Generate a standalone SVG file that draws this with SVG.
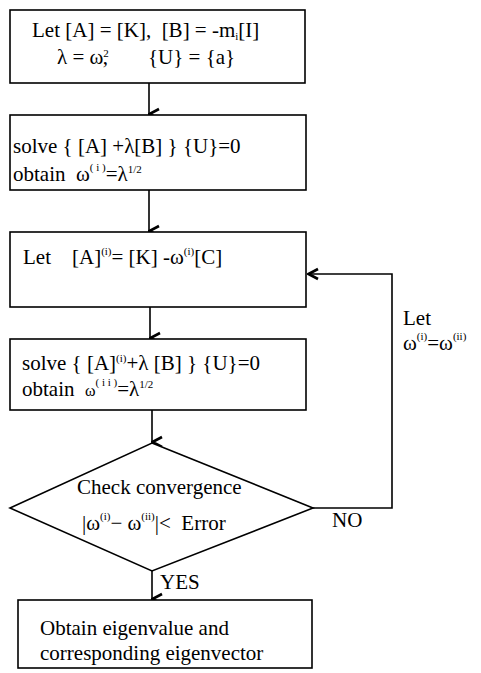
<svg xmlns="http://www.w3.org/2000/svg" width="481" height="673" viewBox="0 0 481 673">
  <style>
    .box { fill: #fff; stroke: #000; stroke-width: 1.6; }
    .wire { fill: none; stroke: #000; stroke-width: 1.6; }
    text { font-family: "Liberation Serif", "Times New Roman", serif; font-size: 21px; fill: #000; }
    .sup { font-size: 11px; }
  </style>
  <defs>
    <marker id="head" viewBox="0 0 14 14" refX="7" refY="13" markerWidth="14" markerHeight="14" markerUnits="userSpaceOnUse" orient="auto-start-reverse">
      <path d="M2,3 L7,12.5 L12,3" fill="none" stroke="#000" stroke-width="2.6"/>
    </marker>
    <marker id="headL" viewBox="0 0 14 14" refX="1" refY="7" markerWidth="14" markerHeight="14" markerUnits="userSpaceOnUse">
      <path d="M11,2 L1.5,7 L11,12" fill="none" stroke="#000" stroke-width="2.6"/>
    </marker>
  </defs>
  <rect width="481" height="673" fill="#fff"/>

  <g id="connectors">
    <line class="wire" x1="149" y1="83" x2="149" y2="114" marker-end="url(#head)"/>
    <line class="wire" x1="149" y1="190" x2="149" y2="231" marker-end="url(#head)"/>
    <line class="wire" x1="150" y1="307" x2="150" y2="338" marker-end="url(#head)"/>
    <line class="wire" x1="152" y1="410" x2="152" y2="442" marker-end="url(#head)"/>
    <line class="wire" x1="152" y1="571" x2="152" y2="599" marker-end="url(#head)"/>
    <polyline class="wire" points="313,508 392,508 392,274 308,274" marker-end="url(#headL)"/>
  </g>

  <g id="init">
    <rect class="box" x="10" y="10" width="295" height="73"/>
    <text x="32" y="37" xml:space="preserve">Let [A] = [K],  [B] = -m<tspan class="sup" dy="3">i</tspan><tspan dy="-3">[I]</tspan></text>
    <text x="57" y="64">λ = ω<tspan class="sup" dy="-7">2</tspan><tspan dx="-6" dy="7">,</tspan></text>
    <text x="148" y="64">{U} = {a}</text>
  </g>

  <g id="solve1">
    <rect class="box" x="10" y="115" width="296" height="75"/>
    <text x="13" y="153">solve { [A] +λ[B] } {U}=0</text>
    <text x="13" y="181" xml:space="preserve">obtain  ω<tspan class="sup" dy="-10">( i )</tspan><tspan dy="10">=λ</tspan><tspan class="sup" dy="-8">1/2</tspan></text>
  </g>

  <g id="update">
    <rect class="box" x="10" y="232" width="296" height="75"/>
    <text x="23" y="264" xml:space="preserve">Let    [A]<tspan class="sup" dy="-9">(i)</tspan><tspan dy="9">= [K] -ω</tspan><tspan class="sup" dy="-9">(i)</tspan><tspan dy="9">[C]</tspan></text>
  </g>

  <g id="solve2">
    <rect class="box" x="10" y="339" width="296" height="71"/>
    <text x="22" y="370">solve { [A]<tspan class="sup" dy="-8">(i)</tspan><tspan dy="8">+λ [B] } {U}=0</tspan></text>
    <text x="22" y="396" xml:space="preserve">obtain  <tspan font-size="16">ω</tspan><tspan class="sup" dy="-10">( i i )</tspan><tspan dy="10">=λ</tspan><tspan class="sup" dy="-8">1/2</tspan></text>
  </g>

  <g id="check">
    <polygon class="box" points="152,443 313,508 152,571 10,508"/>
    <text x="77" y="494">Check convergence</text>
    <text x="82" y="530" xml:space="preserve">|ω<tspan class="sup" dy="-10">(i)</tspan><tspan dy="10">− ω</tspan><tspan class="sup" dy="-10">(ii)</tspan><tspan dy="10">|&lt;  Error</tspan></text>
  </g>

  <g id="labels">
    <text x="332" y="527">NO</text>
    <text x="160" y="589">YES</text>
    <text x="403" y="325">Let</text>
    <text x="403" y="350">ω<tspan class="sup" dy="-10">(i)</tspan><tspan dy="10">=ω</tspan><tspan class="sup" dy="-10">(ii)</tspan></text>
  </g>

  <g id="result">
    <rect class="box" x="18" y="600" width="294" height="68"/>
    <text x="40" y="635">Obtain eigenvalue and</text>
    <text x="40" y="660">corresponding eigenvector</text>
  </g>
</svg>
